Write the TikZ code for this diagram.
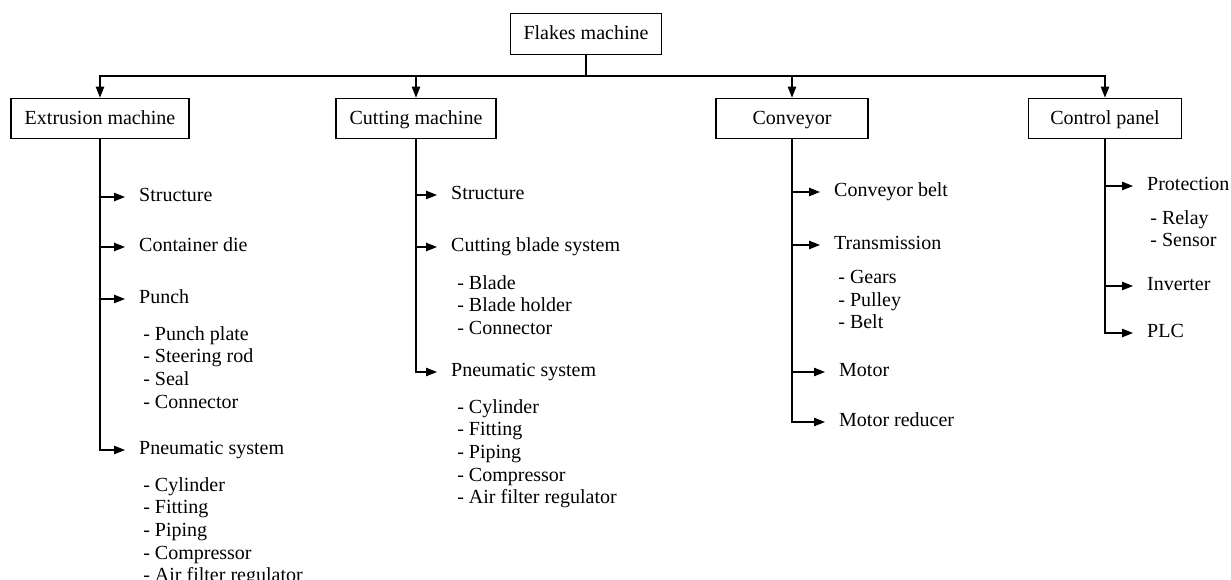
\documentclass[tikz,border=0pt]{standalone}
\usepackage{fontspec}
\setmainfont{Liberation Serif}
\usetikzlibrary{arrows.meta}

\begin{document}
\begin{tikzpicture}[x=0.6pt,y=-0.6pt,
    font=\fontsize{12}{13.6}\selectfont,
    flkBox/.style={draw,line width=0.7pt,minimum height=24.4pt,inner sep=0pt,text height=0.7em,text depth=0pt},
    flkLine/.style={line width=0.7pt},
    flkArr/.style={->,>={Triangle[length=6.5pt,width=5pt]},line width=0.7pt},
    flkItem/.style={anchor=west,inner xsep=8.3pt,inner ysep=0pt,text height=0.7em,text depth=0.2em},
    flkSub/.style={anchor=north west,inner sep=0pt,align=left},
]
\useasboundingbox (0,0) rectangle (1231,580);
% Main boxes
\node[flkBox,minimum width=91pt] (flakes) at (586,34) {Flakes machine};
\node[flkBox,minimum width=106.8pt] (extr) at (100,118.5) {Extrusion machine};
\node[flkBox,minimum width=96pt] (cutm) at (416,118.5) {Cutting machine};
\node[flkBox,minimum width=91.2pt] (conv) at (792,118.5) {Conveyor};
\node[flkBox,minimum width=91.8pt] (ctrl) at (1105,118.5) {Control panel};
% Bus to the four machines
\coordinate (bus) at (586,76);
\draw[flkLine] (flakes.south) -- (bus);
\draw[flkArr] (bus) -| (extr.north);
\draw[flkArr] (bus) -| (cutm.north);
\draw[flkArr] (bus) -| (conv.north);
\draw[flkArr] (bus) -| (ctrl.north);
% Extrusion machine
\node[flkItem] (exStruct) at (125,197) {Structure};
\node[flkItem] (exDie) at (125,247) {Container die};
\node[flkItem] (exPunch) at (125,299) {Punch};
\node[flkSub] (exPunchSub) at (143,326) {- Punch plate\\- Steering rod\\- Seal\\- Connector};
\node[flkItem] (exPneu) at (125,450) {Pneumatic system};
\node[flkSub] (exPneuSub) at (143,477) {- Cylinder\\- Fitting\\- Piping\\- Compressor\\- Air filter regulator};
\draw[flkArr] (extr.south) |- (exStruct.west);
\draw[flkArr] (extr.south) |- (exDie.west);
\draw[flkArr] (extr.south) |- (exPunch.west);
\draw[flkArr] (extr.south) |- (exPneu.west);
% Cutting machine
\node[flkItem] (cuStruct) at (437,195) {Structure};
\node[flkItem] (cuBlade) at (437,247) {Cutting blade system};
\node[flkSub] (cuBladeSub) at (457,275) {- Blade\\- Blade holder\\- Connector};
\node[flkItem] (cuPneu) at (437,372) {Pneumatic system};
\node[flkSub] (cuPneuSub) at (457,399) {- Cylinder\\- Fitting\\- Piping\\- Compressor\\- Air filter regulator};
\draw[flkArr] (cutm.south) |- (cuStruct.west);
\draw[flkArr] (cutm.south) |- (cuBlade.west);
\draw[flkArr] (cutm.south) |- (cuPneu.west);
% Conveyor
\node[flkItem] (coBelt) at (820,192) {Conveyor belt};
\node[flkItem] (coTrans) at (820,245) {Transmission};
\node[flkSub] (coTransSub) at (838,270) {- Gears\\- Pulley\\- Belt};
\node[flkItem] (coMotor) at (825,372) {Motor};
\node[flkItem] (coReduc) at (825,422) {Motor reducer};
\draw[flkArr] (conv.south) |- (coBelt.west);
\draw[flkArr] (conv.south) |- (coTrans.west);
\draw[flkArr] (conv.south) |- (coMotor.west);
\draw[flkArr] (conv.south) |- (coReduc.west);
% Control panel
\node[flkItem] (ctProt) at (1133,186) {Protection};
\node[flkSub] (ctProtSub) at (1150,210) {- Relay\\- Sensor};
\node[flkItem] (ctInv) at (1133,286) {Inverter};
\node[flkItem] (ctPlc) at (1133,333) {PLC};
\draw[flkArr] (ctrl.south) |- (ctProt.west);
\draw[flkArr] (ctrl.south) |- (ctInv.west);
\draw[flkArr] (ctrl.south) |- (ctPlc.west);
\end{tikzpicture}
\end{document}
